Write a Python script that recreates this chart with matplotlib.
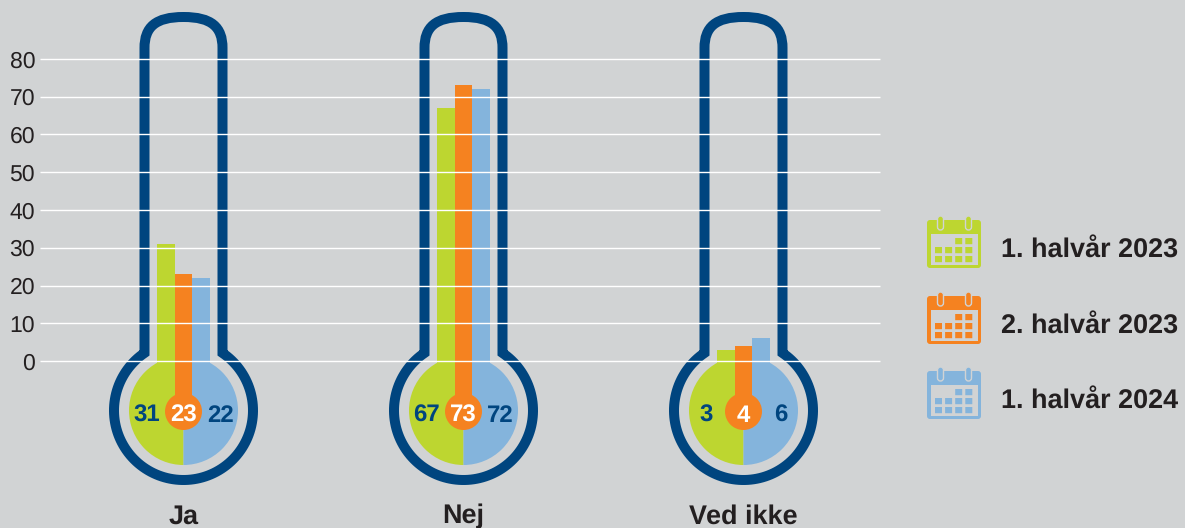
import matplotlib.pyplot as plt
from matplotlib.patches import Circle, FancyBboxPatch, Rectangle, Wedge, PathPatch
from matplotlib.path import Path
import numpy as np

# Data
kategorier = ['Ja', 'Nej', 'Ved ikke']
perioder = ['1. halvår 2023', '2. halvår 2023', '1. halvår 2024']
halvaar_2023_1 = [31, 67, 3]
halvaar_2023_2 = [23, 73, 4]
halvaar_2024_1 = [22, 72, 6]
y_ticks = [0, 10, 20, 30, 40, 50, 60, 70, 80]

BG = '#d1d3d4'
GROEN = '#bdd630'
ORANGE = '#f58220'
BLAA = '#84b4dc'
NAVY = '#00457f'
TEKST = '#231f20'
FONT = 'Liberation Sans'

plt.rcParams['text.hinting'] = 'none'
plt.rcParams['text.hinting_factor'] = 1

W, H = 1185, 528
fig = plt.figure(figsize=(W / 100, H / 100), dpi=100, facecolor=BG)

# axes i pixels til termometre og ikoner
px = fig.add_axes([0, 0, 1, 1], zorder=1)
px.set_xlim(0, W)
px.set_ylim(H, 0)
px.axis('off')

# data axes, y=0 ligger ved pixel 361 og y=80 ved pixel 59
x_l, x_r = 40, 880
y_top, y_bot = 59, 361
ax = fig.add_axes([x_l / W, 1 - y_bot / H, (x_r - x_l) / W, (y_bot - y_top) / H], zorder=2)
ax.patch.set_alpha(0)
ax.set_xlim((x_l - 183.5) / 280, (x_r - 183.5) / 280)
ax.set_ylim(0, 80)
for s in ax.spines.values():
    s.set_visible(False)
ax.set_yticks(y_ticks)
ax.tick_params(axis='y', length=0, pad=3.5)
for t in ax.get_yticklabels():
    t.set_fontsize(16.5)
    t.set_fontfamily(FONT)
    t.set_color(TEKST)
ax.set_xticks(range(3))
ax.set_xticklabels(kategorier, fontsize=19.3, fontweight='bold', fontfamily=FONT, color=TEKST, va='baseline')
ax.tick_params(axis='x', length=0, pad=117)
ax.set_axisbelow(False)
ax.grid(axis='y', color='white', linewidth=1.0)
for g in ax.get_ygridlines():
    g.set_clip_on(False)
    g.set_solid_capstyle('butt')

# soejler, gitterlinjerne ligger oven paa
b = 17.5 / 280
x = np.arange(3)
ax.bar(x - b, halvaar_2023_1, b, color=GROEN, zorder=1)
ax.bar(x + b, halvaar_2024_1, b, color=BLAA, zorder=1)
ax.bar(x, halvaar_2023_2, b, color=ORANGE, zorder=1.5)


def termometer(cx):
    cy = 410.5
    r = 69.5
    nx = 39
    ny = np.sqrt(r ** 2 - nx ** 2)
    # kolbe og roer som en lukket linje
    a = np.arctan2(nx, ny)
    vert = [(cx - r * np.sin(v), cy - r * np.cos(v)) for v in np.linspace(a, 2 * np.pi - a, 120)]
    koder = [Path.MOVETO] + [Path.LINETO] * (len(vert) - 1)
    vert += [(cx + nx, 48), (cx + nx, 27), (cx + 28, 17), (cx, 17),
             (cx - 28, 17), (cx - nx, 27), (cx - nx, 48), (cx - nx, cy - ny)]
    koder += [Path.LINETO, Path.CURVE4, Path.CURVE4, Path.CURVE4,
              Path.CURVE4, Path.CURVE4, Path.CURVE4, Path.CLOSEPOLY]
    px.add_patch(PathPatch(Path(vert, koder), fill=False, edgecolor=NAVY, linewidth=7.2,
                           joinstyle='miter', zorder=1))
    # indre halvcirkler, y-aksen er vendt saa vinklerne spejles
    px.add_patch(Wedge((cx, cy), 54.5, 90, 270, color=GROEN, lw=0, zorder=2))
    px.add_patch(Wedge((cx, cy), 54.5, 270, 450, color=BLAA, lw=0, zorder=2))
    # stilk ned fra soejlerne
    px.add_patch(Rectangle((cx - 26.5, 360), 17.7, 20, color=GROEN, lw=0, zorder=2))
    px.add_patch(Rectangle((cx + 8.8, 360), 17.7, 20, color=BLAA, lw=0, zorder=2))
    px.add_patch(Rectangle((cx - 8.8, 360), 17.6, 45, color=ORANGE, lw=0, zorder=3))
    px.add_patch(Circle((cx, cy + 1), 18.5, color=ORANGE, lw=0, zorder=3))


def kalender(x0, y0, farve):
    # ikon paa 54x52 pixels
    px.add_patch(FancyBboxPatch((x0, y0 + 4), 54, 48, boxstyle='round,pad=0,rounding_size=3',
                                fc=farve, ec='none', zorder=2))
    px.add_patch(Rectangle((x0 + 4, y0 + 18), 47, 31, fc=BG, ec='none', zorder=3))
    for ringx in (x0 + 13.5, x0 + 41.5):
        px.add_patch(FancyBboxPatch((ringx - 3, y0), 6, 14, boxstyle='round,pad=0,rounding_size=3',
                                    fc=farve, ec=BG, lw=1, zorder=4))
    for raekke in range(3):
        for kol in range(4):
            if raekke == 0 and kol < 2:
                continue
            px.add_patch(Rectangle((x0 + 8 + kol * 10.1, y0 + 22 + raekke * 9), 7, 6.2,
                                   fc=farve, ec='none', zorder=4, snap=False))


for i, cx in enumerate([183.5, 463.5, 743.5]):
    termometer(cx)
    px.text(cx - 37, 415.5, str(halvaar_2023_1[i]), ha='center', va='center', fontsize=17,
            fontweight='bold', fontfamily=FONT, color=NAVY, zorder=5)
    px.text(cx, 415.5, str(halvaar_2023_2[i]), ha='center', va='center', fontsize=17,
            fontweight='bold', fontfamily=FONT, color='white', zorder=5)
    px.text(cx + 37, 415.5, str(halvaar_2024_1[i]), ha='center', va='center', fontsize=17,
            fontweight='bold', fontfamily=FONT, color=NAVY, zorder=5)

# forklaring
for y0, farve, tekst in zip([216, 292, 367], [GROEN, ORANGE, BLAA], perioder):
    kalender(927, y0, farve)
    px.text(1001, y0 + 33.5, tekst, ha='left', va='center', fontsize=19.15, fontweight='bold',
            fontfamily=FONT, color=TEKST)

fig.savefig('out.png', dpi=100, facecolor=BG)
